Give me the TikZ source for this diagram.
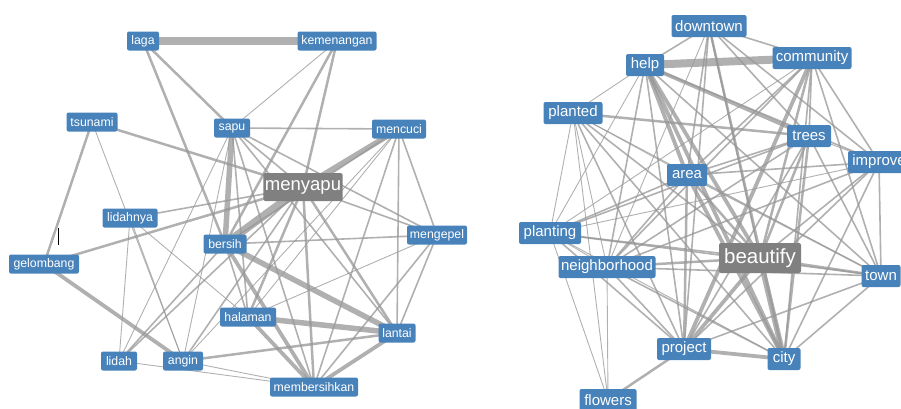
\documentclass[tikz,border=0pt]{standalone}
\usepackage{fontspec}
\setmainfont{Liberation Sans}
\usetikzlibrary{backgrounds}
\definecolor{nodeblue}{RGB}{72,130,186}
\definecolor{nodegray}{RGB}{128,128,128}
\definecolor{edgegray}{RGB}{150,150,150}
\tikzset{
  nb/.style={rounded corners=2pt, fill=nodeblue, text=white, inner xsep=1.5pt, inner ysep=0pt},
  ng/.style={rounded corners=2pt, fill=nodegray, text=white, inner xsep=1.5pt, inner ysep=0pt},
  lsm/.style={font=\fontsize{12.3}{14}\selectfont, minimum height=19pt},
  rsm/.style={font=\fontsize{15}{17}\selectfont, minimum height=22pt},
  lbig/.style={font=\fontsize{18.5}{20}\selectfont, minimum height=28pt},
  rbig/.style={font=\fontsize{20.5}{22}\selectfont, minimum height=30pt},
  ed/.style={draw=edgegray, opacity=0.75},
  ea/.style={ed, line width=0.9pt},
  eb/.style={ed, line width=1.6pt},
  ec/.style={ed, line width=2.5pt},
  edd/.style={ed, line width=3.8pt},
  ee/.style={ed, line width=5.5pt},
  ef/.style={ed, line width=8pt},
}
\begin{document}
\begin{tikzpicture}[x=1pt,y=-1pt]
\useasboundingbox (0,0) rectangle (901,408);
% ---------------- left graph ----------------
\node[nb,lsm,minimum width=32pt] (laga) at (143,41) {laga};
\node[nb,lsm,minimum width=79pt] (kemenangan) at (337,41) {kemenangan};
\node[nb,lsm,minimum width=51pt] (tsunami) at (92,122) {tsunami};
\node[nb,lsm,minimum width=36pt] (sapu) at (232,128) {sapu};
\node[nb,lsm,minimum width=54pt] (mencuci) at (399,129) {mencuci};
\node[ng,lbig,minimum width=79pt] (menyapu) at (303,187) {menyapu};
\node[nb,lsm,minimum width=55pt] (lidahnya) at (130,218) {lidahnya};
\node[nb,lsm,minimum width=43pt] (bersih) at (225,244) {bersih};
\node[nb,lsm,minimum width=60pt] (mengepel) at (437,235) {mengepel};
\node[nb,lsm,minimum width=70pt] (gelombang) at (44,264) {gelombang};
\node[nb,lsm,minimum width=56pt] (halaman) at (248,317) {halaman};
\node[nb,lsm,minimum width=37pt] (lantai) at (397,333) {lantai};
\node[nb,lsm,minimum width=36pt] (lidah) at (119,361) {lidah};
\node[nb,lsm,minimum width=40pt] (angin) at (183,361) {angin};
\node[nb,lsm,minimum width=88pt] (membersihkan) at (314,387) {membersihkan};
\coordinate (cura) at (58,228);
\coordinate (curb) at (58,245);
\draw[black, line width=0.9pt] (cura) -- (curb);
% ---------------- right graph ----------------
\node[nb,rsm,minimum width=75pt] (downtown) at (709,26) {downtown};
\node[nb,rsm,minimum width=38pt] (help) at (645,65) {help};
\node[nb,rsm,minimum width=79pt] (community) at (812,58) {community};
\node[nb,rsm,minimum width=59pt] (planted) at (573,113) {planted};
\node[nb,rsm,minimum width=44pt] (trees) at (809,136) {trees};
\node[nb,rsm,minimum width=62pt] (improve) at (879,162) {improve};
\node[nb,rsm,minimum width=40pt] (area) at (687,175) {area};
\node[nb,rsm,minimum width=62pt] (planting) at (550,233) {planting};
\node[nb,rsm,minimum width=97pt] (neighborhood) at (607,267) {neighborhood};
\node[ng,rbig,minimum width=82pt] (beautify) at (760,258) {beautify};
\node[nb,rsm,minimum width=39pt] (town) at (881,276) {town};
\node[nb,rsm,minimum width=54pt] (project) at (684,349) {project};
\node[nb,rsm,minimum width=33pt] (city) at (784,359) {city};
\node[nb,rsm,minimum width=57pt] (flowers) at (608,400) {flowers};
\begin{pgfonlayer}{background}
% left edges
\draw[ef] (laga.center) -- (kemenangan.center);
\draw[ec] (laga.center) -- (sapu.center);
\draw[ec] (laga.center) -- (bersih.center);
\draw[ea] (kemenangan.center) -- (sapu.center);
\draw[ec] (kemenangan.center) -- (bersih.center);
\draw[ec] (kemenangan.center) -- (menyapu.center);
\draw[ec] (tsunami.center) -- (gelombang.center);
\draw[ea] (tsunami.center) -- (angin.center);
\draw[ec] (tsunami.center) -- (menyapu.center);
\draw[eb] (lidahnya.center) -- (menyapu.center);
\draw[ea] (lidahnya.center) -- (lidah.center);
\draw[ea] (lidahnya.center) -- (angin.center);
\draw[ea] (lidahnya.center) -- (halaman.center);
\draw[ec] (gelombang.center) -- (menyapu.center);
\draw[edd] (gelombang.center) -- (angin.center);
\draw[ea] (lidah.center) -- (sapu.center);
\draw[eb] (lidah.center) -- (menyapu.center);
\draw[eb] (lidah.center) -- (bersih.center);
\draw[ea] (lidah.center) -- (membersihkan.center);
\draw[ec] (angin.center) -- (lantai.center);
\draw[ea] (angin.center) -- (membersihkan.center);
\draw[ea] (angin.center) -- (sapu.center);
\draw[eb] (angin.center) -- (menyapu.center);
\draw[eb] (sapu.center) -- (mencuci.center);
\draw[eb] (sapu.center) -- (menyapu.center);
\draw[ee] (sapu.center) -- (bersih.center);
\draw[eb] (sapu.center) -- (halaman.center);
\draw[eb] (sapu.center) -- (membersihkan.center);
\draw[eb] (sapu.center) -- (lantai.center);
\draw[eb] (sapu.center) -- (mengepel.center);
\draw[ee] (mencuci.center) -- (menyapu.center);
\draw[eb] (mencuci.center) -- (mengepel.center);
\draw[eb] (mencuci.center) -- (lantai.center);
\draw[eb] (mencuci.center) -- (membersihkan.center);
\draw[ea] (mencuci.center) -- (halaman.center);
\draw[eb] (mencuci.center) -- (bersih.center);
\draw[ea] (mencuci.center) -- (angin.center);
\draw[ef] (menyapu.center) -- (bersih.center);
\draw[ec] (menyapu.center) -- (halaman.center);
\draw[ec] (menyapu.center) -- (lantai.center);
\draw[ec] (menyapu.center) -- (membersihkan.center);
\draw[eb] (menyapu.center) -- (mengepel.center);
\draw[ee] (bersih.center) -- (lantai.center);
\draw[edd] (bersih.center) -- (membersihkan.center);
\draw[eb] (bersih.center) -- (halaman.center);
\draw[eb] (bersih.center) -- (mengepel.center);
\draw[ee] (halaman.center) -- (lantai.center);
\draw[edd] (halaman.center) -- (membersihkan.center);
\draw[ea] (halaman.center) -- (mengepel.center);
\draw[edd] (lantai.center) -- (membersihkan.center);
\draw[eb] (lantai.center) -- (mengepel.center);
\draw[eb] (mengepel.center) -- (membersihkan.center);
% right edges
\draw[ef] (help.center) -- (community.center);
\draw[eb] (help.center) -- (downtown.center);
\draw[ea] (help.center) -- (planted.center);
\draw[edd] (help.center) -- (area.center);
\draw[edd] (help.center) -- (beautify.center);
\draw[edd] (help.center) -- (city.center);
\draw[edd] (help.center) -- (trees.center);
\draw[eb] (help.center) -- (project.center);
\draw[eb] (help.center) -- (town.center);
\draw[eb] (help.center) -- (neighborhood.center);
\draw[ea] (help.center) -- (planting.center);
\draw[eb] (help.center) -- (improve.center);
\draw[eb] (downtown.center) -- (community.center);
\draw[eb] (downtown.center) -- (area.center);
\draw[eb] (downtown.center) -- (beautify.center);
\draw[ec] (downtown.center) -- (city.center);
\draw[eb] (downtown.center) -- (trees.center);
\draw[eb] (downtown.center) -- (improve.center);
\draw[eb] (downtown.center) -- (project.center);
\draw[ea] (downtown.center) -- (neighborhood.center);
\draw[eb] (community.center) -- (trees.center);
\draw[eb] (community.center) -- (improve.center);
\draw[eb] (community.center) -- (area.center);
\draw[ec] (community.center) -- (beautify.center);
\draw[edd] (community.center) -- (project.center);
\draw[eb] (community.center) -- (town.center);
\draw[eb] (community.center) -- (city.center);
\draw[eb] (community.center) -- (neighborhood.center);
\draw[ea] (community.center) -- (planting.center);
\draw[ec] (planted.center) -- (trees.center);
\draw[ea] (planted.center) -- (area.center);
\draw[ea] (planted.center) -- (planting.center);
\draw[ea] (planted.center) -- (neighborhood.center);
\draw[eb] (planted.center) -- (beautify.center);
\draw[eb] (planted.center) -- (project.center);
\draw[eb] (planted.center) -- (city.center);
\draw[ea] (planted.center) -- (town.center);
\draw[ea] (planted.center) -- (flowers.center);
\draw[eb] (trees.center) -- (area.center);
\draw[ec] (trees.center) -- (beautify.center);
\draw[ec] (trees.center) -- (city.center);
\draw[eb] (trees.center) -- (project.center);
\draw[eb] (trees.center) -- (town.center);
\draw[eb] (trees.center) -- (planting.center);
\draw[eb] (trees.center) -- (neighborhood.center);
\draw[ea] (trees.center) -- (improve.center);
\draw[eb] (improve.center) -- (area.center);
\draw[eb] (improve.center) -- (beautify.center);
\draw[eb] (improve.center) -- (town.center);
\draw[eb] (improve.center) -- (project.center);
\draw[eb] (improve.center) -- (city.center);
\draw[eb] (improve.center) -- (neighborhood.center);
\draw[ea] (improve.center) -- (planting.center);
\draw[ec] (area.center) -- (beautify.center);
\draw[edd] (area.center) -- (city.center);
\draw[ec] (area.center) -- (project.center);
\draw[eb] (area.center) -- (neighborhood.center);
\draw[eb] (area.center) -- (planting.center);
\draw[eb] (area.center) -- (town.center);
\draw[ea] (planting.center) -- (neighborhood.center);
\draw[eb] (planting.center) -- (beautify.center);
\draw[eb] (planting.center) -- (town.center);
\draw[eb] (planting.center) -- (project.center);
\draw[ea] (planting.center) -- (city.center);
\draw[ea] (planting.center) -- (flowers.center);
\draw[ec] (neighborhood.center) -- (beautify.center);
\draw[eb] (neighborhood.center) -- (town.center);
\draw[eb] (neighborhood.center) -- (city.center);
\draw[eb] (neighborhood.center) -- (project.center);
\draw[ea] (neighborhood.center) -- (flowers.center);
\draw[edd] (beautify.center) -- (project.center);
\draw[ee] (beautify.center) -- (city.center);
\draw[ec] (beautify.center) -- (town.center);
\draw[eb] (town.center) -- (project.center);
\draw[eb] (town.center) -- (city.center);
\draw[edd] (project.center) -- (city.center);
\draw[ec] (project.center) -- (flowers.center);
\end{pgfonlayer}
\end{tikzpicture}
\end{document}
